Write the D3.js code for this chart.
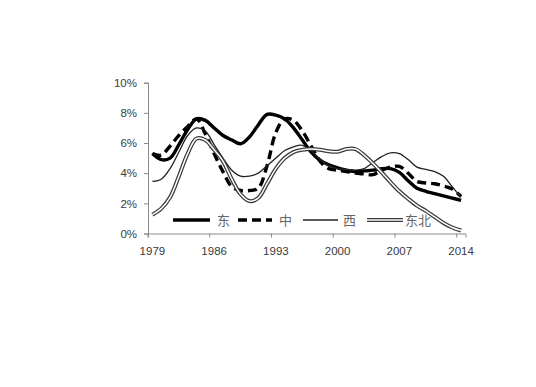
<!DOCTYPE html>
<html><head><meta charset="utf-8">
<script src="https://cdn.jsdelivr.net/npm/d3@7"></script>
<style>body{margin:0;background:#fff;}svg{display:block;}</style>
</head><body>
<svg id="c" width="536" height="387"></svg>
<script>
const years = d3.range(1979, 2015);
const tickYears = [1979, 1986, 1993, 2000, 2007, 2014];
const yTicks = [0, 2, 4, 6, 8, 10];
const seriesNames = ["东", "中", "西", "东北"];
const east = [5.3,4.9,5.0,5.9,6.9,7.6,7.5,7.0,6.5,6.2,5.95,6.4,7.2,7.9,7.85,7.6,7.0,6.2,5.4,4.87,4.55,4.35,4.2,4.1,4.15,4.2,4.3,4.3,4.05,3.5,3.0,2.8,2.65,2.5,2.35,2.2];
const central = [5.3,5.2,5.8,6.5,7.1,7.6,6.6,5.3,4.1,3.1,2.85,2.85,3.0,4.5,6.7,7.6,7.5,6.8,5.8,4.8,4.3,4.2,4.1,4.0,3.95,3.9,4.2,4.4,4.45,4.0,3.45,3.35,3.3,3.15,2.95,2.45];
const west = [3.45,3.6,4.3,5.4,6.5,7.0,6.8,5.9,5.0,4.2,3.8,3.8,4.0,4.5,5.0,5.5,5.75,5.85,5.5,4.9,4.5,4.3,4.25,4.2,4.3,4.7,5.1,5.35,5.3,4.9,4.4,4.25,4.1,3.8,3.1,2.4];
const northeast = [1.25,1.65,2.4,3.8,5.3,6.3,6.2,5.55,4.8,3.6,2.6,2.15,2.35,3.3,4.3,5.0,5.4,5.55,5.6,5.55,5.45,5.42,5.6,5.6,5.2,4.65,4.05,3.4,2.8,2.3,1.85,1.5,1.1,0.7,0.4,0.2];

const svg = d3.select("#c");
const x = d3.scaleBand().domain(years).range([148, 465.5]);
const bw = x.bandwidth();
const y = d3.scaleLinear().domain([0, 10]).range([233.5, 82.7]);
const cx = yr => x(yr) + bw / 2;

// axes
const yAxis = svg.append("g").attr("transform", "translate(148,0)")
  .call(d3.axisLeft(y).tickValues(yTicks).tickFormat(d => d + "%").tickSize(4).tickPadding(7));
const xAxis = svg.append("g").attr("transform", "translate(0,233.5)")
  .call(d3.axisBottom(x).tickValues(tickYears).tickSize(4).tickPadding(9));
xAxis.selectAll(".tick line").attr("transform", `translate(${-bw/2},0)`);
[yAxis, xAxis].forEach(g => {
  g.select(".domain").attr("stroke", "#8a8a8a").attr("stroke-width", 1);
  g.selectAll(".tick line").attr("stroke", "#8a8a8a");
  g.selectAll("text").attr("font-family", "Liberation Sans, Arial, sans-serif")
    .attr("font-size", 11.5).attr("fill", "#3a3a3a");
});

const line = d3.line().x((d, i) => cx(years[i])).y(d => y(d)).curve(d3.curveCatmullRom.alpha(0.5));

const styles = [
  {data: east, w: 3.4, dash: null, color: "#000"},
  {data: central, w: 3.4, dash: "9,5", color: "#000"},
  {data: west, w: 1.3, dash: null, color: "#222"},
  {data: northeast, w: 4, dash: null, color: "#3a3a3a", dbl: true}
];
styles.forEach(s => {
  svg.append("path").attr("d", line(s.data)).attr("fill", "none")
    .attr("stroke", s.color).attr("stroke-width", s.w)
    .attr("stroke-dasharray", s.dash).attr("stroke-linejoin", "round");
  if (s.dbl) {
    svg.append("path").attr("d", line(s.data)).attr("fill", "none")
      .attr("stroke", "#fff").attr("stroke-width", 1.5).attr("stroke-linejoin", "round");
  }
});

// legend
const legX = [[173, 210, 217], [238, 272, 279], [303, 338, 343], [367, 403, 405]];
const ly = 220;
styles.forEach((s, i) => {
  const [a, b, t] = legX[i];
  const g = svg.append("g");
  g.append("line").attr("x1", a).attr("x2", b).attr("y1", ly).attr("y2", ly)
    .attr("stroke", s.color).attr("stroke-width", s.w).attr("stroke-dasharray", s.dash);
  if (s.dbl) g.append("line").attr("x1", a).attr("x2", b).attr("y1", ly).attr("y2", ly)
    .attr("stroke", "#fff").attr("stroke-width", 1.5);
  g.append("text").attr("x", t).attr("y", ly + 4.5).text(seriesNames[i])
    .attr("font-family", "Noto Sans CJK SC").attr("font-size", 13).attr("fill", "#666");
});
</script>
</body></html>
